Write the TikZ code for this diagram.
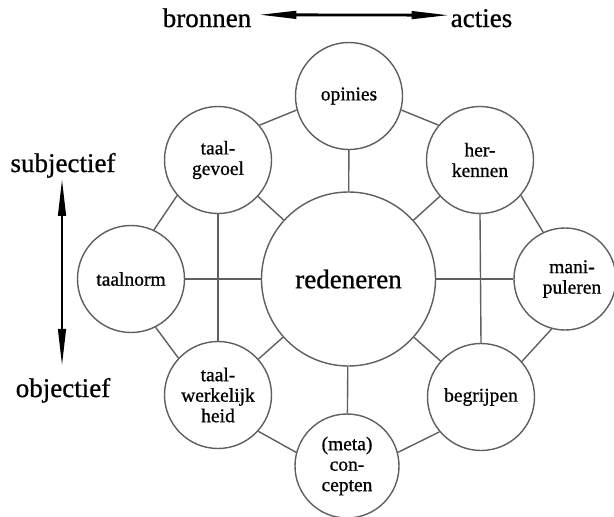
\documentclass[tikz,border=0pt]{standalone}
\usepackage{fontspec}
\setmainfont[FakeBold=0.8]{Liberation Serif}
\usetikzlibrary{arrows.meta}
\definecolor{ring}{RGB}{95,95,95}
\tikzset{
  bub/.style={circle, draw=ring, line width=1.4pt, fill=white, minimum size=#1, inner sep=0pt, align=center, font=\fontsize{19.5}{20.5}\selectfont},
  bub/.default=107pt,
  link/.style={draw=ring, line width=1.4pt},
  lab/.style={font=\fontsize{27}{30}\selectfont, inner sep=0pt, anchor=base},
  dbl/.style={line width=2.8pt, {Triangle[length=38pt,width=7.5pt]}-{Triangle[length=38pt,width=7.5pt]}}
}
\begin{document}
\begin{tikzpicture}[x=1pt,y=-1pt]
\path[use as bounding box, fill=white] (0,0) rectangle (614,517);

\coordinate (cC) at (348.5,279);
\coordinate (cO) at (349,96);
\coordinate (cTG) at (218,160);
\coordinate (cHK) at (480,160);
\coordinate (cTN) at (131,279);
\coordinate (cMP) at (565,279);
\coordinate (cTW) at (218,395);
\coordinate (cBG) at (481,397);
\coordinate (cMC) at (347,466);

\node[bub=174pt, font=\fontsize{27}{30}\selectfont] (C) at (cC) {redeneren};
\node[bub] (O) at (cO) {opinies};
\node[bub] (TG) at (cTG) {taal-\\gevoel};
\node[bub] (HK) at (cHK) {her-\\kennen};
\node[bub] (TN) at (cTN) {taalnorm};
\node[bub=102pt] (MP) at (cMP) {\hspace*{14pt}mani-\\\hspace*{14pt}puleren};
\node[bub] (TW) at (cTW) {taal-\\werkelijk\\heid};
\node[bub] (BG) at (cBG) {begrijpen};
\node[bub=104pt] (MC) at (cMC) {(meta)\\con-\\cepten};

% spokes
\draw[link] (C) -- (O);
\draw[link] (C) -- (TG);
\draw[link] (C) -- (HK);
\draw[link] (C) -- (TN);
\draw[link] (C) -- (MP);
\draw[link] (C) -- (TW);
\draw[link] (C) -- (BG);
\draw[link] (C) -- (MC);
% verticals
\draw[link] (TG.south) -- (TW.north);
\draw[link] (HK.south) -- (BG.north);
% ring
\draw[link] (O.195) -- (TG.40);
\draw[link] (O.-15) -- (HK.140);
\draw[link] (TG.221) -- (TN.65);
\draw[link] (HK.-41) -- (MP.115);
\draw[link] (TN.-63) -- (TW.137);
\draw[link] (MP.-105) -- (BG.41);
\draw[link] (TW.-42) -- (MC.165);
\draw[link] (BG.220) -- (MC.15);

% axis labels
\node[lab] (bronnen) at (207,27) {bronnen};
\node[lab] (acties) at (481.5,27) {acties};
\node[lab] (subj) at (63,172) {subjectief};
\node[lab] (obj) at (63,397) {objectief};

\draw[dbl] ([xshift=7pt,yshift=3pt]bronnen.east) -- ([xshift=-1pt,yshift=3pt]acties.west);
\draw[dbl, shorten >=11pt] ([xshift=-1pt]subj.south) -- ([xshift=-1pt]obj.north);
\end{tikzpicture}
\end{document}
